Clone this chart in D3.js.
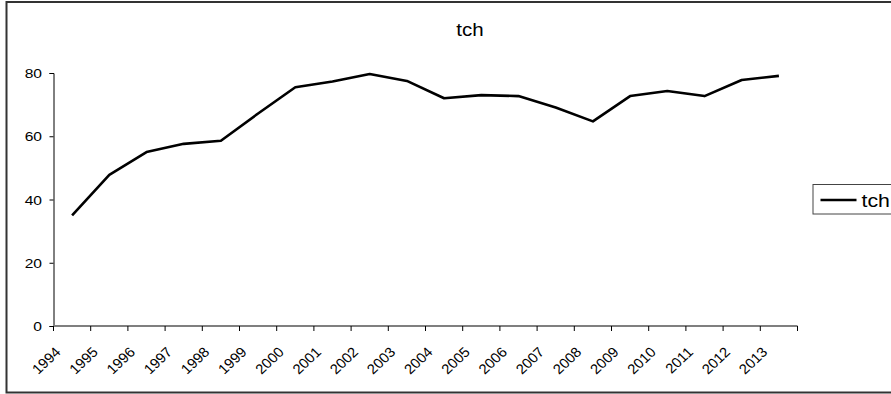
<!DOCTYPE html>
<html>
<head>
<meta charset="utf-8">
<script src="https://cdn.jsdelivr.net/npm/d3@7"></script>
<style>
  html, body { margin: 0; padding: 0; background: #fff; }
  svg { display: block; font-family: "Liberation Sans", Arial, sans-serif; }
</style>
</head>
<body>
<svg id="chart" width="891" height="394"></svg>
<script>
// Yearly series "tch"
const years = ["1994","1995","1996","1997","1998","1999","2000","2001","2002","2003",
               "2004","2005","2006","2007","2008","2009","2010","2011","2012","2013"];
const tch = [35.0, 47.8, 55.0, 57.6, 58.6, 67.2, 75.5, 77.3, 79.7, 77.5,
             72.0, 73.0, 72.7, 69.1, 64.7, 72.7, 74.3, 72.7, 77.8, 79.1];
const yTicks = [0, 20, 40, 60, 80];
const seriesName = "tch";

// text in this chart is drawn slightly wide
const yStretch = 1.2;
const xStretch = 1.06;

const svg = d3.select("#chart");

// outer chart frame (right side runs off the canvas)
svg.append("rect")
  .attr("x", 6.5).attr("y", 2).attr("width", 900).attr("height", 390.5)
  .attr("fill", "none").attr("stroke", "#333").attr("stroke-width", 2);

const plot = { left: 53.5, right: 797.5, top: 73, bottom: 326 };

const x = d3.scaleBand().domain(years).range([plot.left, plot.right]).padding(0);
const y = d3.scaleLinear().domain([0, 80]).range([plot.bottom, plot.top]);

// title
svg.append("text")
  .attr("transform", `translate(470,36) scale(1.08,1)`)
  .attr("text-anchor", "middle")
  .attr("font-size", 19)
  .attr("fill", "#000")
  .text(seriesName);

// y axis
const yAxis = d3.axisLeft(y).tickValues(yTicks).tickSize(4).tickPadding(0).tickFormat(d3.format("d"));
const gy = svg.append("g").attr("transform", `translate(${plot.left},0)`).call(yAxis);
gy.select(".domain").attr("stroke", "#000").attr("stroke-width", 1);
gy.selectAll(".tick line").attr("stroke", "#000");
gy.selectAll(".tick text")
  .attr("x", 0)
  .attr("dy", "0.36em")
  .attr("transform", `translate(-11.5,0) scale(${yStretch},1)`)
  .attr("font-size", 13).attr("fill", "#000")
  .attr("font-family", "Liberation Sans, Arial, sans-serif");

// x axis: ticks on category boundaries, labels rotated
const boundaries = years.map(d => x(d)).concat([x.range()[1]]);
const gx = svg.append("g");
gx.append("line")
  .attr("x1", plot.left).attr("x2", plot.right)
  .attr("y1", plot.bottom).attr("y2", plot.bottom)
  .attr("stroke", "#7f7f7f").attr("stroke-width", 2);
gx.selectAll("line.tk").data(boundaries).join("line").attr("class", "tk")
  .attr("x1", d => d).attr("x2", d => d)
  .attr("y1", plot.bottom).attr("y2", plot.bottom + 5)
  .attr("stroke", "#000").attr("stroke-width", 1);
gx.selectAll("text").data(years).join("text")
  .attr("text-anchor", "end")
  .attr("font-size", 14)
  .attr("fill", "#000")
  .attr("transform", d => `translate(${x(d) + x.bandwidth() / 2 - 10.5},${plot.bottom + 27}) scale(${xStretch},1) rotate(-45)`)
  .text(d => d);

// series line
const line = d3.line()
  .x((d, i) => x(years[i]) + x.bandwidth() / 2)
  .y(d => y(d));
svg.append("path")
  .datum(tch)
  .attr("d", line)
  .attr("fill", "none")
  .attr("stroke", "#000")
  .attr("stroke-width", 2.6)
  .attr("stroke-linejoin", "round");

// legend
const lg = svg.append("g").attr("transform", "translate(813,184.5)");
lg.append("rect").attr("x", 0).attr("y", 0).attr("width", 100).attr("height", 29.5)
  .attr("fill", "#fff").attr("stroke", "#444").attr("stroke-width", 1);
lg.append("line").attr("x1", 7.5).attr("x2", 43.5).attr("y1", 15.5).attr("y2", 15.5)
  .attr("stroke", "#000").attr("stroke-width", 2.6);
lg.append("text").attr("transform", "translate(48.5,22.5) scale(1.12,1)")
  .attr("font-size", 19).attr("fill", "#000").text(seriesName);
</script>
</body>
</html>
